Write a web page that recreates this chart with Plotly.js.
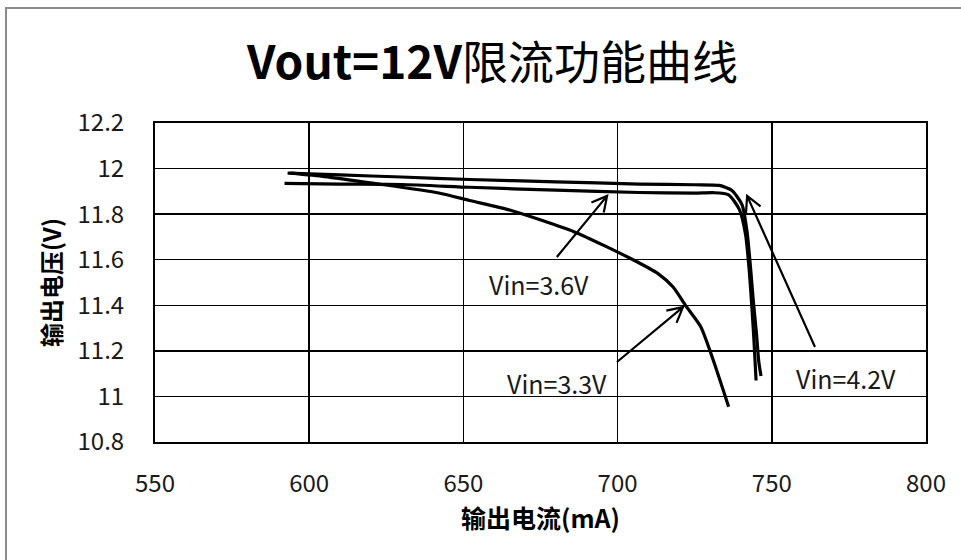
<!DOCTYPE html>
<html>
<head>
<meta charset="utf-8">
<script src="https://cdn.plot.ly/plotly-3.0.1.min.js"></script>
<style>
  html, body { margin: 0; padding: 0; background: #ffffff; }
  #chart { width: 961px; height: 560px; }
</style>
</head>
<body>
<div id="chart"></div>
<script>
// ---- Data ----
const titleText = '<b>Vout=12V</b>限流功能曲线';
const xTitle = '输出电流(mA)';
const yTitle = '输出电压(V)';

const xTicks = [550, 600, 650, 700, 750, 800];
const yTicks = [10.8, 11, 11.2, 11.4, 11.6, 11.8, 12, 12.2];
const yTickText = ['10.8', '11', '11.2', '11.4', '11.6', '11.8', '12', '12.2'];

// Vin = 4.2V
const i42 = [593, 610, 630, 652, 680, 707, 725, 733, 737, 740.4, 742, 743.2, 744, 745, 745.8, 746.5];
const v42 = [11.98, 11.972, 11.963, 11.952, 11.942, 11.932, 11.929, 11.926, 11.905, 11.84, 11.72, 11.55, 11.42, 11.28, 11.15, 11.09];

// Vin = 3.6V
const i36 = [592, 610, 630, 652, 680, 707, 725, 731, 736, 739.5, 741.5, 742.7, 743.5, 744.2, 744.9];
const v36 = [11.935, 11.932, 11.93, 11.918, 11.905, 11.895, 11.892, 11.894, 11.885, 11.82, 11.71, 11.55, 11.40, 11.25, 11.07];

// Vin = 3.3V
const i33 = [594, 605, 621, 642, 652, 665, 686, 705, 713, 718, 722, 727, 731, 736];
const v33 = [11.98, 11.965, 11.935, 11.893, 11.86, 11.818, 11.722, 11.60, 11.54, 11.48, 11.40, 11.305, 11.16, 10.955];

// annotation labels and arrows (tail -> head), data coordinates
const labelText = ['Vin=3.6V', 'Vin=3.3V', 'Vin=4.2V'];
const labelX = [674.5, 680.5, 774.0];
const labelY = [11.493, 11.059, 11.081];
const arrowTailX = [680.3, 699.8, 764.0];
const arrowTailY = [11.612, 11.151, 11.217];
const arrowHeadX = [696.6, 721.2, 742.0];
const arrowHeadY = [11.880, 11.392, 11.880];

// ---- Layout geometry ----
const W = 961, H = 560;
const M = { l: 155, r: 35, t: 123, b: 118 };
const xRange = [550, 800], yRange = [10.8, 12.2];
const plotW = W - M.l - M.r, plotH = H - M.t - M.b;
const sx = plotW / (xRange[1] - xRange[0]);
const sy = plotH / (yRange[1] - yRange[0]);

const FONT = '"Noto Sans CJK SC", "Noto Sans", sans-serif';

const lineStyle = { color: '#000000', width: 3.2, shape: 'spline', smoothing: 0.6 };
const traces = [
  { x: i42, y: v42, mode: 'lines', name: 'Vin=4.2V', line: lineStyle, hoverinfo: 'x+y' },
  { x: i36, y: v36, mode: 'lines', name: 'Vin=3.6V', line: lineStyle, hoverinfo: 'x+y' },
  { x: i33, y: v33, mode: 'lines', name: 'Vin=3.3V', line: lineStyle, hoverinfo: 'x+y' }
];

// arrows: shaft + open head, built from the arrow arrays
const shapes = [];
for (let k = 0; k < arrowTailX.length; k++) {
  const tx = arrowTailX[k], ty = arrowTailY[k], hx = arrowHeadX[k], hy = arrowHeadY[k];
  const dxp = (hx - tx) * sx, dyp = (hy - ty) * sy;
  const len = Math.hypot(dxp, dyp);
  const ux = dxp / len, uy = dyp / len;
  const L = 17, a = 28 * Math.PI / 180;
  const wings = [a, -a].map(ang => {
    const rx = ux * Math.cos(ang) - uy * Math.sin(ang);
    const ry = ux * Math.sin(ang) + uy * Math.cos(ang);
    return [hx - L * rx / sx, hy - L * ry / sy];
  });
  shapes.push({
    type: 'path', xref: 'x', yref: 'y',
    path: `M ${tx},${ty} L ${hx},${hy} M ${wings[0][0]},${wings[0][1]} L ${hx},${hy} L ${wings[1][0]},${wings[1][1]}`,
    line: { color: '#000000', width: 2.2 }
  });
}
// outer chart border (only left and top visible in the reference)
const bx = (6 - M.l) / plotW, by = (M.t + plotH - 8) / plotH;
shapes.push({
  type: 'path', xref: 'paper', yref: 'paper',
  path: `M ${bx},-0.6 L ${bx},${by} L 1.3,${by}`,
  line: { color: '#8a8a8a', width: 2 }
});

const annotations = labelText.map((t, k) => ({
  x: labelX[k], y: labelY[k], xref: 'x', yref: 'y', text: t, showarrow: false,
  font: { family: FONT, size: 25, color: '#1a1a1a' }, xanchor: 'center', yanchor: 'middle'
}));

const layout = {
  width: W, height: H,
  margin: M,
  paper_bgcolor: '#ffffff', plot_bgcolor: '#ffffff',
  showlegend: false,
  title: {
    text: titleText,
    font: { family: FONT, size: 46, color: '#000000' },
    xref: 'container', yref: 'container', x: 492.5 / W, y: 1 - 63 / H,
    xanchor: 'center', yanchor: 'middle'
  },
  xaxis: {
    range: xRange, tickvals: xTicks, ticktext: xTicks.map(String),
    showgrid: true, gridcolor: '#000000', gridwidth: 1.5,
    showline: true, linecolor: '#000000', linewidth: 2, mirror: true,
    zeroline: false, ticks: '', ticklabelstandoff: 19,
    tickfont: { family: FONT, size: 24, color: '#1a1a1a' },
    title: { text: '<b>' + xTitle + '</b>', font: { family: FONT, size: 25, color: '#000000' }, standoff: 10 }
  },
  yaxis: {
    range: yRange, tickvals: yTicks, ticktext: yTickText,
    showgrid: true, gridcolor: '#000000', gridwidth: 1.5,
    showline: true, linecolor: '#000000', linewidth: 2, mirror: true,
    zeroline: false, ticks: '', ticklabelstandoff: 24,
    tickfont: { family: FONT, size: 24, color: '#1a1a1a' },
    title: { text: '<b>' + yTitle + '</b>', font: { family: FONT, size: 24, color: '#000000' }, standoff: 9 }
  },
  shapes: shapes,
  annotations: annotations
};

Plotly.newPlot('chart', traces, layout, { displayModeBar: false, staticPlot: true });
</script>
</body>
</html>
